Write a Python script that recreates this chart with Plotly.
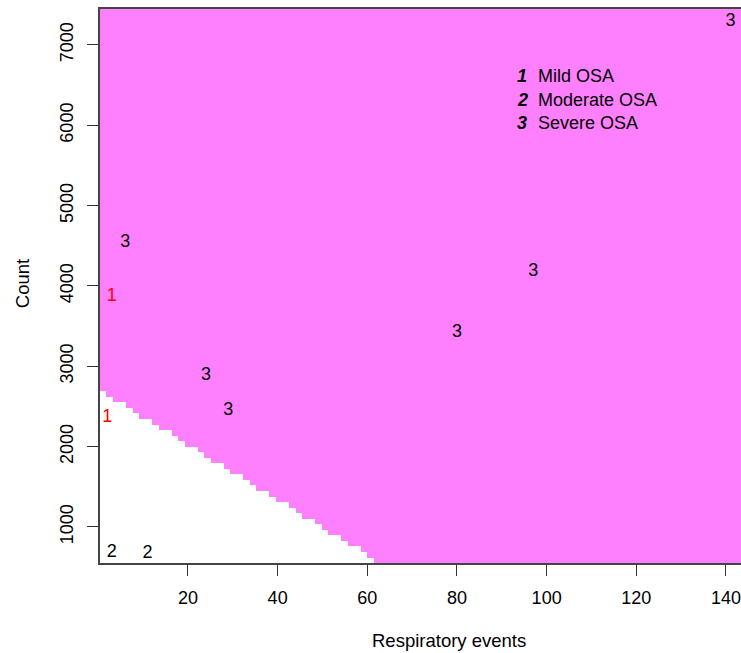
import numpy as np
import plotly.graph_objects as go

# Observations: respiratory events vs. count, labelled by OSA severity class
events = [141, 6, 3, 97, 80, 24, 29, 2, 3, 11]
counts = [7290, 4535, 3875, 4175, 3415, 2885, 2445, 2365, 685, 665]
classes = ["3", "3", "1", "3", "3", "3", "3", "1", "2", "2"]

class_names = ["Mild OSA", "Moderate OSA", "Severe OSA"]
class_codes = ["1", "2", "3"]
class_colors = {"1": "#FF0000", "2": "#000000", "3": "#000000"}

# Linear decision boundary of the classifier: count = intercept + slope * events
boundary_intercept = 2714
boundary_slope = -34.4

# Prediction grid over the plotted domain
grid_x = np.linspace(1.1, 145.0, 100)
grid_y = np.linspace(586.0, 7413.0, 100)
gx, gy = np.meshgrid(grid_x, grid_y)
region = (gy > boundary_intercept + boundary_slope * gx).astype(int)

FONT = "Liberation Sans, Arial, sans-serif"

fig = go.Figure()

fig.add_trace(go.Heatmap(
    x=grid_x, y=grid_y, z=region,
    colorscale=[[0, "#FFFFFF"], [1, "#FF80FF"]],
    zmin=0, zmax=1, showscale=False, zsmooth=False, hoverinfo="skip",
))

fig.add_trace(go.Scatter(
    x=events, y=counts, mode="text", text=classes,
    textposition="middle center",
    textfont=dict(family=FONT, size=18, color=[class_colors[c] for c in classes]),
    showlegend=False,
))

# Legend block: bold italic class code followed by its name
legend_code_x = 94.6
legend_text_x = 97.7
legend_rows_y = [6610, 6315, 6025]
for code, name, ly in zip(class_codes, class_names, legend_rows_y):
    fig.add_annotation(x=legend_code_x, y=ly, xref="x", yref="y",
                       text=f"<b><i>{code}</i></b>", showarrow=False,
                       xanchor="center", yanchor="middle",
                       font=dict(family=FONT, size=18, color="#000000"))
    fig.add_annotation(x=legend_text_x, y=ly, xref="x", yref="y",
                       text=name, showarrow=False,
                       xanchor="left", yanchor="middle",
                       font=dict(family=FONT, size=18, color="#000000"))

# Axis titles
fig.add_annotation(x=0.5445, y=-0.139, xref="paper", yref="paper",
                   text="Respiratory events", showarrow=False,
                   xanchor="center", yanchor="middle",
                   font=dict(family=FONT, size=18.5, color="#000000"))
fig.add_annotation(x=-0.1217, y=0.505, xref="paper", yref="paper",
                   text="Count", showarrow=False, textangle=-90,
                   xanchor="center", yanchor="middle",
                   font=dict(family=FONT, size=18.5, color="#000000"))

axis_common = dict(
    showgrid=False, zeroline=False, showline=True, linecolor="#444444",
    linewidth=1.5, ticks="outside", ticklen=11, tickwidth=1.2,
    tickcolor="#333333", tickfont=dict(family=FONT, size=18, color="#000000"),
    ticklabeloverflow="allow",
)

fig.update_layout(
    width=741, height=653,
    margin=dict(l=100, r=0, t=9, b=90),
    paper_bgcolor="#FFFFFF", plot_bgcolor="#FFFFFF",
    xaxis=dict(range=[0.38, 143.35], tickvals=[20, 40, 60, 80, 100, 120, 140],
               mirror=True, ticklabelstandoff=7, **axis_common),
    yaxis=dict(range=[551, 7448], tickvals=[1000, 2000, 3000, 4000, 5000, 6000, 7000],
               tickangle=-90, ticklabelstandoff=7, **axis_common),
)

fig.write_html("out.html")
